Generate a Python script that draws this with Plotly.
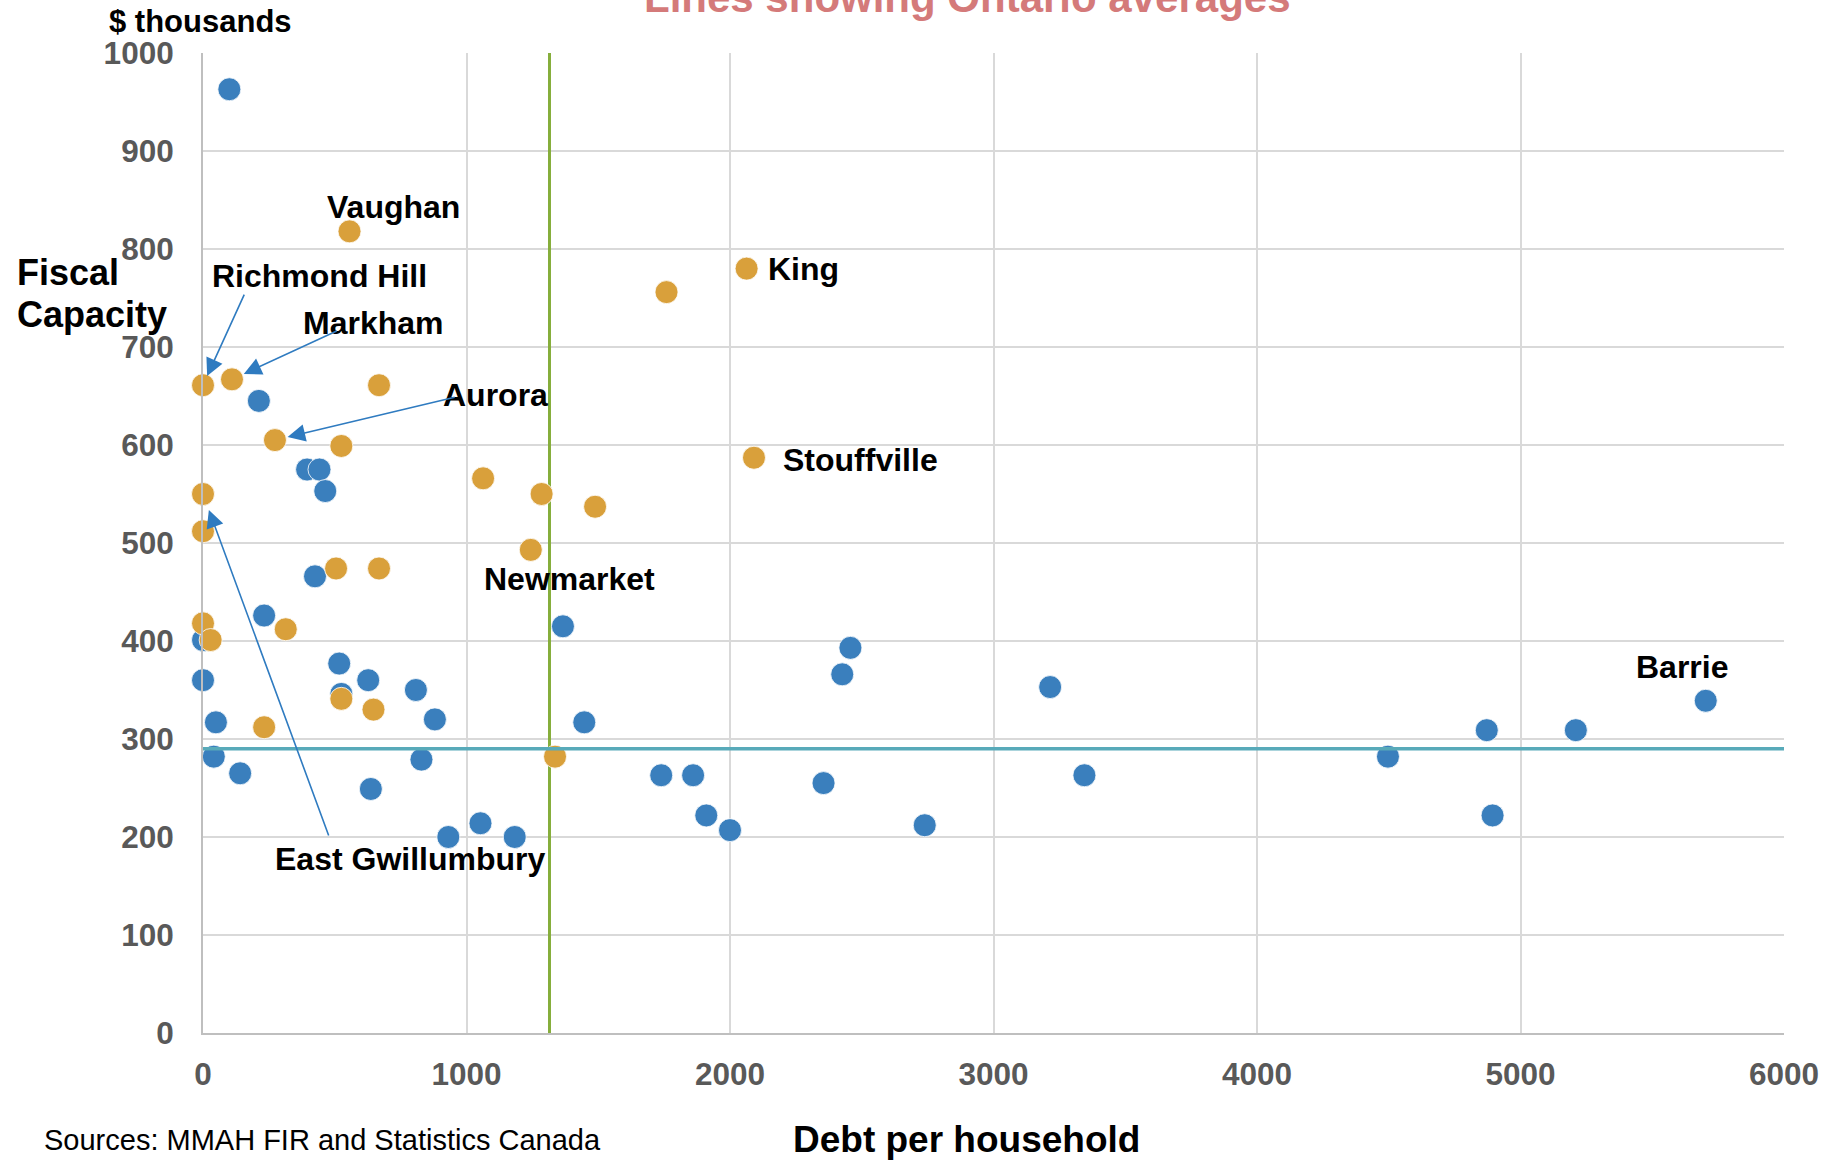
import plotly.graph_objects as go

FONT = "Liberation Sans, Arial, sans-serif"

# York Region municipalities (orange markers): debt per household, fiscal capacity ($ thousands)
york_debt = [556, 2063, 1759, 0, 110, 668, 273, 525, 2091, 1063, 0, 1285,
             1488, 0, 1244, 505, 668, 0, 314, 29, 525, 647, 232, 1336]
york_capacity = [818, 780, 756, 661, 667, 661, 605, 599, 587, 566, 550, 550,
                 537, 512, 493, 474, 474, 418, 412, 401, 341, 330, 312, 282]

# Other Ontario municipalities (blue markers)
other_debt = [100, 212, 395, 442, 464, 425, 232, 0, 0, 517, 525, 627, 808,
              880, 49, 41, 141, 829, 637, 931, 1053, 1183, 1366, 1447, 1739,
              1860, 1910, 2000, 2355, 2426, 2457, 2739, 3215, 3345, 4497,
              4872, 4894, 5210, 5703]
other_capacity = [963, 645, 575, 575, 553, 466, 426, 401, 360, 377, 346, 360,
                  350, 320, 317, 282, 265, 279, 249, 200, 214, 200, 415, 317,
                  263, 263, 222, 207, 255, 366, 393, 212, 353, 263, 282, 309,
                  222, 309, 339]

# Ontario averages
avg_debt = 1315
avg_capacity = 290

x_ticks = [0, 1000, 2000, 3000, 4000, 5000, 6000]
y_ticks = [0, 100, 200, 300, 400, 500, 600, 700, 800, 900, 1000]

# Municipality name labels: (text, x, y) in data units, text anchored at its left edge
name_labels = [
    ("Vaughan", 462, 843),
    ("Richmond Hill", 28, 772),
    ("Markham", 370, 724),
    ("Aurora", 903, 651),
    ("King", 2138, 780),
    ("Stouffville", 2194, 585),
    ("Newmarket", 1059, 463),
    ("East Gwillumbury", 264, 178),
    ("Barrie", 5430, 373),
]

# Leader arrows: (index into the York series, tail x, tail y, standoff px)
leaders = [
    (3, 159, 755, 10),    # Richmond Hill
    (4, 513, 717, 13),    # Markham
    (6, 961, 649, 13),    # Aurora
    (10, 479, 200, 17),   # East Gwillumbury
]

BLUE = "#3A7FBD"
ORANGE = "#D9A03B"
ARROW = "#2F7BC0"
GRID = "#D9D9D9"
AXIS = "#BFBFBF"
TICK = "#595959"

fig = go.Figure()

fig.add_trace(go.Scatter(
    x=other_debt, y=other_capacity, mode="markers", name="Other municipalities",
    marker=dict(size=23, color=BLUE, line=dict(color="rgba(255,255,255,0.8)", width=1)),
    cliponaxis=False, showlegend=False,
))
fig.add_trace(go.Scatter(
    x=york_debt, y=york_capacity, mode="markers", name="York Region",
    marker=dict(size=23, color=ORANGE, line=dict(color="rgba(255,255,255,0.8)", width=1)),
    cliponaxis=False, showlegend=False,
))

# Ontario average lines
fig.add_shape(type="line", xref="x", yref="y", x0=avg_debt, x1=avg_debt,
              y0=y_ticks[0], y1=y_ticks[-1], layer="between",
              line=dict(color="#86AE3C", width=3))
fig.add_shape(type="line", xref="x", yref="y", x0=x_ticks[0], x1=x_ticks[-1],
              y0=avg_capacity, y1=avg_capacity, layer="above",
              line=dict(color="#58AAB9", width=3.5))

annotations = []
for text, lx, ly in name_labels:
    annotations.append(dict(
        x=lx, y=ly, xref="x", yref="y", text=text, showarrow=False,
        xanchor="left", yanchor="middle",
        font=dict(family=FONT, size=32, color="#000000", weight="bold"),
    ))

for idx, tx, ty, stand in leaders:
    annotations.append(dict(
        x=york_debt[idx], y=york_capacity[idx], xref="x", yref="y",
        ax=tx, ay=ty, axref="x", ayref="y", text="", showarrow=True,
        arrowhead=2, arrowsize=2.2, arrowwidth=1.6, arrowcolor=ARROW,
        standoff=stand,
    ))

# Titles and notes
annotations += [
    dict(x=0.4837, y=1.0568, xref="paper", yref="paper",
         text="Lines showing Ontario averages", showarrow=False,
         xanchor="center", yanchor="middle",
         font=dict(family=FONT, size=42, color="#D47A7A", weight="bold")),
    dict(x=-0.0605, y=1.0325, xref="paper", yref="paper", text="$ thousands",
         showarrow=False, xanchor="left", yanchor="middle",
         font=dict(family=FONT, size=31, color="#000000", weight="bold")),
    dict(x=-0.119, y=0.7764, xref="paper", yref="paper", text="Fiscal",
         showarrow=False, xanchor="left", yanchor="middle",
         font=dict(family=FONT, size=36, color="#000000", weight="bold")),
    dict(x=-0.119, y=0.7331, xref="paper", yref="paper", text="Capacity",
         showarrow=False, xanchor="left", yanchor="middle",
         font=dict(family=FONT, size=36, color="#000000", weight="bold")),
    dict(x=0.483, y=-0.1087, xref="paper", yref="paper", text="Debt per household",
         showarrow=False, xanchor="center", yanchor="middle",
         font=dict(family=FONT, size=37, color="#000000", weight="bold")),
    dict(x=-0.1018, y=-0.1087, xref="paper", yref="paper",
         text="Sources: MMAH FIR and Statistics Canada",
         showarrow=False, xanchor="left", yanchor="middle",
         font=dict(family=FONT, size=29, color="#000000")),
]

fig.update_layout(
    width=1837, height=1161,
    margin=dict(l=203, r=53, t=53, b=128, pad=0),
    paper_bgcolor="white", plot_bgcolor="white",
    showlegend=False,
    annotations=annotations,
    font=dict(family=FONT),
)

fig.update_xaxes(
    range=[x_ticks[0], x_ticks[-1]], tickvals=x_ticks, ticktext=[str(v) for v in x_ticks],
    showgrid=True, gridcolor=GRID, gridwidth=2,
    zeroline=False, showline=True, linecolor=AXIS, linewidth=2,
    ticks="", ticklabelstandoff=12,
    tickfont=dict(family=FONT, size=31.5, color=TICK, weight="bold"),
)
fig.update_yaxes(
    range=[y_ticks[0], y_ticks[-1]], tickvals=y_ticks, ticktext=[str(v) for v in y_ticks],
    showgrid=True, gridcolor=GRID, gridwidth=2,
    zeroline=False, showline=True, linecolor=AXIS, linewidth=2,
    ticks="", ticklabelstandoff=21,
    tickfont=dict(family=FONT, size=31.5, color=TICK, weight="bold"),
)

fig.write_html("out.html")
